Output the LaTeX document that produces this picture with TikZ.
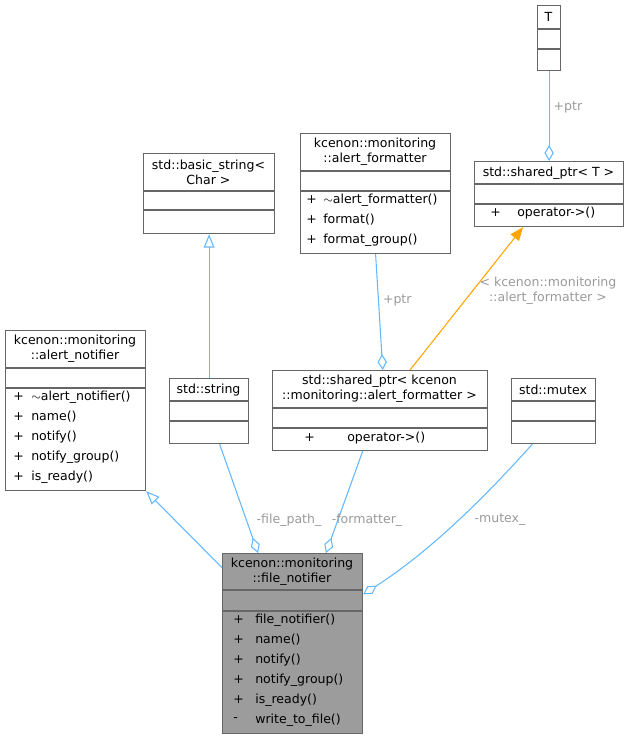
\documentclass[tikz,border=0pt]{standalone}
\usepackage{fontspec}
\setmainfont{DejaVu Sans}
\usetikzlibrary{arrows.meta}

\definecolor{edgeblue}{HTML}{63B8FF}
\definecolor{edgeorange}{HTML}{FFA500}
\definecolor{labelgray}{HTML}{9A9A9A}
\definecolor{boxgray}{HTML}{666666}

\tikzset{
  box/.style={draw=boxgray,line width=0.9pt,fill=white,inner sep=0pt,anchor=north west},
  txt/.style={inner sep=0pt,font=\fontsize{9.4}{11.5}\selectfont,align=center},
  op/.style={txt,anchor=west},
  lab/.style={txt,text=labelgray},
  uses/.style={edgeblue,line width=0.8pt,{Diamond[open,length=12pt,width=7pt]}-},
  inherits/.style={edgeblue,line width=0.8pt,{Triangle[open,length=10pt,width=8pt]}-},
  tmpl/.style={edgeorange,line width=0.8pt,{Triangle[length=10pt,width=8pt]}-}
}

% \umlbox{name}{x}{y}{width}{height}{sep1}{sep2}
\newcommand{\umlbox}[8][white]{
  \node[box,fill=#1,minimum width=#5*0.75pt,minimum height=#6*0.75pt] (#2) at (#3,#4) {};
  \draw[boxgray,line width=0.9pt] (#3,#7) -- (#3+#5,#7);
  \draw[boxgray,line width=0.9pt] (#3,#8) -- (#3+#5,#8);
}

\begin{document}
\begin{tikzpicture}[x=0.75pt,y=-0.75pt]
  \useasboundingbox (0,0) rectangle (630,739);

  % Boxes
  \umlbox{T}{537}{5}{23}{65}{29}{49}
  \node[txt] (Tt) at (548.5,17) {T};

  \umlbox{sptrT}{474}{161}{149}{65}{184}{204}
  \node[txt] (sptrTt) at (548.5,173) {std::shared\_ptr< T >};
  \node[op] (sptrTp) at (490,213) {+};
  \node[op] (sptrTo) at (517,213) {operator->()};

  \umlbox{fmt}{300}{133}{150}{120}{171}{191}
  \node[txt] (fmtt) at (375,152) {kcenon::monitoring\\::alert\_formatter};
  \foreach \y/\lab [count=\i] in {200/$\sim$alert\_formatter(),220/format(),240/format\_group()}{
    \node[op] (fmtp\i) at (306,\y) {+};
    \node[op] (fmto\i) at (323,\y) {\lab};
  }

  \umlbox{bstr}{143}{153}{131}{80}{191}{210}
  \node[txt] (bstrt) at (208.5,172) {std::basic\_string<\\Char >};

  \umlbox{notif}{5}{330}{140}{160}{368}{388}
  \node[txt] (notift) at (75,349) {kcenon::monitoring\\::alert\_notifier};
  \foreach \y/\lab [count=\i] in {397/$\sim$alert\_notifier(),417/name(),437/notify(),457/notify\_group(),477/is\_ready()}{
    \node[op] (notifp\i) at (13,\y) {+};
    \node[op] (notifo\i) at (31,\y) {\lab};
  }

  \umlbox{str}{169}{378}{79}{65}{401}{421}
  \node[txt] (strt) at (208.5,390) {std::string};

  \umlbox{sptrK}{272}{370}{215}{80}{408}{428}
  \node[txt] (sptrKt) at (379.5,389) {std::shared\_ptr< kcenon\\::monitoring::alert\_formatter >};
  \node[op] (sptrKp) at (304,438) {+};
  \node[op] (sptrKo) at (347,438) {operator->()};

  \umlbox{mtx}{511}{378}{84}{65}{401}{421}
  \node[txt] (mtxt) at (553,390) {std::mutex};

  \umlbox[boxgray!65]{file}{222}{553}{140}{180}{590}{611}
  \node[txt] (filet) at (292,572) {kcenon::monitoring\\::file\_notifier};
  \foreach \s/\y/\lab [count=\i] in {+/620/file\_notifier(),+/640/name(),+/660/notify(),+/680/notify\_group(),+/700/is\_ready(),-/720/write\_to\_file()}{
    \node[op] (filep\i) at (233,\y) {\s};
    \node[op] (fileo\i) at (255,\y) {\lab};
  }

  % Connectors
  \draw[uses] (sptrT.north) -- (T.south) node[lab,pos=0.6,right=3pt] {+ptr};
  \draw[uses] ([xshift=2pt]sptrK.north) -- (fmt.south) node[lab,pos=0.6,right=3pt] {+ptr};
  \draw[tmpl] ([xshift=36.75pt]sptrT.south west) -- ([xshift=103.5pt]sptrK.north west);
  \node[lab] (tmplab) at (548,291) {< kcenon::monitoring\\::alert\_formatter >};
  \draw[inherits] (bstr.south) -- (str.north);
  \draw[inherits] (notif.south east) -- ([yshift=-11pt]file.north west);
  \draw[uses] ([xshift=27pt]file.north west) -- ([xshift=38pt]str.south west);
  \node[lab] (fplab) at (289,520) {-file\_path\_};
  \draw[uses] ([xshift=78pt]file.north west) -- ([xshift=68pt]sptrK.south west);
  \node[lab] (fmlab) at (367,520) {-formatter\_};
  \draw[uses] ([yshift=-31pt]file.north east) .. controls (440,545) and (500,480) .. ([xshift=16pt]mtx.south west);
  \node[lab] (mxlab) at (500,520) {-mutex\_};
\end{tikzpicture}
\end{document}
